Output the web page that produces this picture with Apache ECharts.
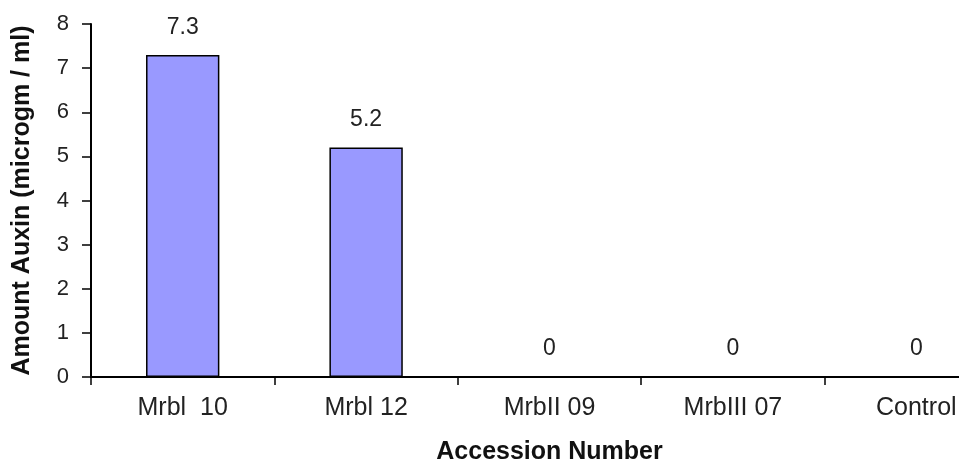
<!DOCTYPE html>
<html>
<head>
<meta charset="utf-8">
<script src="https://cdn.jsdelivr.net/npm/echarts@6/dist/echarts.min.js"></script>
<style>
  html, body { margin: 0; padding: 0; background: #fff; overflow: hidden; }
  #wrap { width: 959px; height: 470px; overflow: hidden; }
  /* 原图右侧被裁掉，所以画布比窗口宽 */
  #chart { width: 1010px; height: 470px; }
</style>
</head>
<body>
<div id="wrap"><div id="chart"></div></div>
<script>
// 数据
var categories = ['Mrbl  10', 'Mrbl 12', 'MrbII 09', 'MrbIII 07', 'Control'];
var auxinValues = [7.3, 5.2, 0, 0, 0];
var yTicks = [0, 1, 2, 3, 4, 5, 6, 7, 8];

(function (window) {
    var font = 'Liberation Sans, Arial, sans-serif';

    function drawChart(dom) {
        var chart = echarts.init(dom, null, { renderer: 'canvas' });
        chart.setOption({
            animation: false,
            grid: {
                left: 91,
                top: 24,
                bottom: 90,
                right: 2
            },
            xAxis: {
                type: 'category',
                data: categories,
                name: 'Accession Number',
                nameLocation: 'middle',
                nameGap: 63,
                nameTextStyle: {
                    fontFamily: font,
                    fontSize: 25,
                    fontWeight: 'bold',
                    color: '#111'
                },
                axisLine: { lineStyle: { color: '#000', width: 2 } },
                axisTick: { show: true, length: 8, inside: false, lineStyle: { color: '#000', width: 1.5 } },
                axisLabel: {
                    margin: 19,
                    fontFamily: font,
                    fontSize: 25,
                    color: '#222'
                }
            },
            yAxis: {
                type: 'value',
                min: yTicks[0],
                max: yTicks[yTicks.length - 1],
                interval: 1,
                name: 'Amount Auxin (microgm / ml)',
                nameLocation: 'middle',
                nameGap: 56,
                nameTextStyle: {
                    fontFamily: font,
                    fontSize: 25,
                    fontWeight: 'bold',
                    color: '#111'
                },
                axisLine: { show: true, lineStyle: { color: '#000', width: 2 } },
                axisTick: { show: true, length: 9, lineStyle: { color: '#000', width: 1.5 } },
                axisLabel: {
                    margin: 22,
                    fontFamily: font,
                    fontSize: 22,
                    color: '#222'
                },
                splitLine: { show: false }
            },
            series: [{
                type: 'bar',
                data: auxinValues,
                barWidth: '40%',
                itemStyle: {
                    color: '#9999ff',
                    borderColor: '#000',
                    borderWidth: 1.5
                },
                label: {
                    show: true,
                    position: 'top',
                    distance: 16,
                    fontFamily: font,
                    fontSize: 23,
                    color: '#222'
                }
            }]
        });
    }

    drawChart(document.getElementById('chart'));
})(window);
</script>
</body>
</html>
